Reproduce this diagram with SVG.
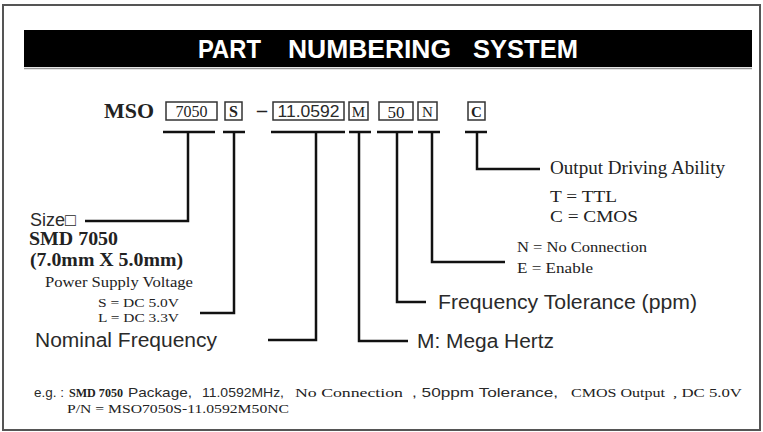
<svg xmlns="http://www.w3.org/2000/svg" width="763" height="432" viewBox="0 0 763 432">
<style>
.sans{font-family:"Liberation Sans",Arial,sans-serif;fill:#2a2a2a}
.serif{font-family:"Liberation Serif","Times New Roman",serif;fill:#222}
.b{font-weight:bold}
.box{fill:#fff;stroke:#333;stroke-width:1.5}
.ln{fill:none;stroke:#111;stroke-width:2.5;stroke-linejoin:miter}
.ttl{font-family:"Liberation Sans",Arial,sans-serif;font-weight:bold;font-size:25px;fill:#fff}
.eg{font-size:13.5px}
</style>
<rect width="763" height="432" fill="#fff"/>
<rect x="3" y="5" width="757" height="425" fill="none" stroke="#555" stroke-width="2"/>
<g id="title">
<rect x="24" y="30" width="728" height="37" fill="#000"/>
<line x1="24" y1="68.5" x2="752" y2="68.5" stroke="#999" stroke-width="1.5"/>
<text class="ttl" x="198" y="58" textLength="63" lengthAdjust="spacingAndGlyphs">PART</text>
<text class="ttl" x="288" y="58" textLength="163" lengthAdjust="spacingAndGlyphs">NUMBERING</text>
<text class="ttl" x="473" y="58" textLength="105" lengthAdjust="spacingAndGlyphs">SYSTEM</text>
</g>
<g id="code">
<text class="serif b" x="104" y="118" font-size="21" textLength="50" lengthAdjust="spacingAndGlyphs">MSO</text>
<g id="box-7050"><rect class="box" x="166" y="102" width="51" height="18"/><text class="serif" x="191.5" y="117" font-size="16" text-anchor="middle">7050</text></g>
<g id="box-S"><rect class="box" x="225" y="102" width="17" height="18"/><text class="serif b" x="233.5" y="117" font-size="16" text-anchor="middle">S</text></g>
<text class="serif b" x="262" y="117" font-size="20" text-anchor="middle">–</text>
<g id="box-freq"><rect class="box" x="273" y="102" width="71" height="18"/><text class="sans" x="308.5" y="117" font-size="16" text-anchor="middle" textLength="62" lengthAdjust="spacingAndGlyphs">11.0592</text></g>
<g id="box-M"><rect class="box" x="349" y="102" width="19" height="18"/><text class="serif" x="358.5" y="117" font-size="15" text-anchor="middle">M</text></g>
<g id="box-50"><rect class="box" x="379" y="102" width="34" height="18"/><text class="serif" x="396" y="117.5" font-size="17" text-anchor="middle">50</text></g>
<g id="box-N"><rect class="box" x="418" y="102" width="19" height="18"/><text class="serif" x="427.5" y="117" font-size="15" text-anchor="middle">N</text></g>
<g id="box-C"><rect class="box" x="468" y="102" width="17" height="18"/><text class="serif b" x="476.5" y="117" font-size="15" text-anchor="middle">C</text></g>
</g>
<g id="connectors">
<path class="ln" d="M163 132H215M188 132V221H85"/>
<path class="ln" d="M223 132H245M234 132V313H200"/>
<path class="ln" d="M271 132H345M316 132V340H268"/>
<path class="ln" d="M349 132H371M359 132V341H408"/>
<path class="ln" d="M377 132H413M397 132V302H426"/>
<path class="ln" d="M418 132H440M432 132V262H505"/>
<path class="ln" d="M465 132H487M477 132V169H540"/>
</g>
<g id="size">
<text class="sans" x="30" y="226" font-size="18">Size□</text>
<text class="serif b" x="29" y="245" font-size="18" textLength="89" lengthAdjust="spacingAndGlyphs">SMD 7050</text>
<text class="serif b" x="30" y="266" font-size="18" textLength="153" lengthAdjust="spacingAndGlyphs">(7.0mm X 5.0mm)</text>
</g>
<g id="voltage">
<text class="serif" x="45" y="287" font-size="14.5" textLength="148" lengthAdjust="spacingAndGlyphs">Power Supply Voltage</text>
<text class="serif" x="98" y="307" font-size="13" textLength="81" lengthAdjust="spacingAndGlyphs">S = DC 5.0V</text>
<text class="serif" x="98" y="322" font-size="13" textLength="81" lengthAdjust="spacingAndGlyphs">L = DC 3.3V</text>
</g>
<g id="nominal"><text class="sans" x="35" y="347" font-size="20" textLength="182" lengthAdjust="spacingAndGlyphs">Nominal Frequency</text></g>
<g id="mega"><text class="sans" x="417" y="348" font-size="20" textLength="137" lengthAdjust="spacingAndGlyphs">M: Mega Hertz</text></g>
<g id="tolerance"><text class="sans" x="438" y="309" font-size="20" textLength="259" lengthAdjust="spacingAndGlyphs">Frequency Tolerance (ppm)</text></g>
<g id="enable">
<text class="serif" x="517" y="252" font-size="14" textLength="130" lengthAdjust="spacingAndGlyphs">N = No Connection</text>
<text class="serif" x="517" y="273" font-size="14" textLength="76" lengthAdjust="spacingAndGlyphs">E = Enable</text>
</g>
<g id="output">
<text class="serif" x="550" y="174" font-size="18" textLength="175" lengthAdjust="spacingAndGlyphs">Output Driving Ability</text>
<text class="serif" x="550" y="202" font-size="17" textLength="67" lengthAdjust="spacingAndGlyphs">T = TTL</text>
<text class="serif" x="550" y="222" font-size="17" textLength="88" lengthAdjust="spacingAndGlyphs">C = CMOS</text>
</g>
<g id="example">
<text class="sans eg" x="34" y="397" textLength="30" lengthAdjust="spacingAndGlyphs">e.g. :</text>
<text class="serif b eg" x="69" y="397" textLength="54" lengthAdjust="spacingAndGlyphs">SMD 7050</text>
<text class="sans eg" x="128" y="397" textLength="64" lengthAdjust="spacingAndGlyphs">Package,</text>
<text class="sans eg" x="202" y="397" textLength="82" lengthAdjust="spacingAndGlyphs">11.0592MHz,</text>
<text class="serif eg" x="295" y="397" textLength="108" lengthAdjust="spacingAndGlyphs">No Connection</text>
<text class="sans eg" x="412" y="397" textLength="146" lengthAdjust="spacingAndGlyphs">, 50ppm Tolerance,</text>
<text class="serif eg" x="571" y="397" textLength="94" lengthAdjust="spacingAndGlyphs">CMOS Output</text>
<text class="serif eg" x="673" y="397" textLength="69" lengthAdjust="spacingAndGlyphs">, DC 5.0V</text>
<text class="serif eg" x="67" y="413" textLength="222" lengthAdjust="spacingAndGlyphs">P/N = MSO7050S-11.0592M50NC</text>
</g>
</svg>
